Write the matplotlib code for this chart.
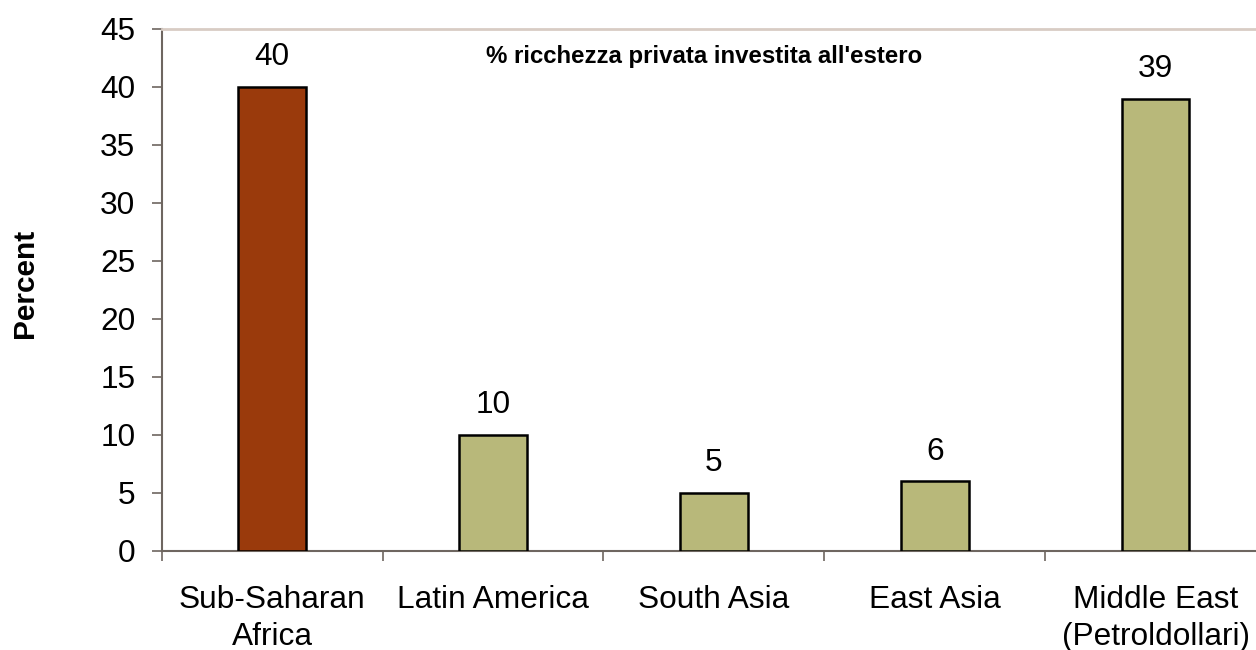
import matplotlib
matplotlib.use("Agg")
import matplotlib.pyplot as plt
import numpy as np

categories = ["Sub-Saharan\nAfrica", "Latin America", "South Asia", "East Asia", "Middle East\n(Petroldollari)"]
values = [40, 10, 5, 6, 39]
colors = ["#9A3A0C", "#B8B87A", "#B8B87A", "#B8B87A", "#B8B87A"]
yticks = [0, 5, 10, 15, 20, 25, 30, 35, 40, 45]
title = "% ricchezza privata investita all'estero"
ylabel = "Percent"

plt.rcParams['font.family'] = ['Liberation Sans', 'DejaVu Sans']

W, H = 1256, 650
fig = plt.figure(figsize=(W / 100, H / 100), dpi=100)
left = 161.7 / W
right = 1266.0 / W
bottom = 1 - 550.7 / H
top = 1 - 29.0 / H
ax = fig.add_axes([left, bottom, right - left, top - bottom])

x = np.arange(len(categories)) + 0.5
bars = ax.bar(x, values, width=0.307, color=colors, edgecolor="black", linewidth=1.8, zorder=3)
for xi, v in zip(x, values):
    ax.annotate(str(v), (xi, v), xytext=(0, 15.5), textcoords="offset points",
                ha="center", va="baseline", fontsize=22.8)

ax.set_xlim(0, len(categories))
ax.set_ylim(0, 45)
ax.set_yticks(yticks)
ax.set_yticklabels([str(t) for t in yticks], fontsize=22.8)
ax.tick_params(axis="y", direction="out", length=7, width=1.2, color="#6E6660", pad=12)

ax.set_xticks(np.arange(len(categories) + 1))
ax.set_xticklabels([])
ax.tick_params(axis="x", which="major", direction="out", length=7, width=1.2, color="#6E6660")
ax.set_xticks(x, minor=True)
ax.set_xticklabels(categories, minor=True, fontsize=22.8, linespacing=1.28)
ax.tick_params(axis="x", which="minor", length=0, pad=25)

for s in ["left", "bottom"]:
    ax.spines[s].set_color("#6E6660")
    ax.spines[s].set_linewidth(1.5)
ax.spines["top"].set_color("#D8CCC4")
ax.spines["top"].set_linewidth(2)
ax.spines["right"].set_visible(False)

ax.text(2.457, 42.6, title, ha="center", va="center", fontsize=17.3, fontweight="bold")
fig.text(25 / W, 1 - 283 / H, ylabel, rotation=90, ha="center", va="center",
         fontsize=21.5, fontweight="bold")

fig.savefig("out.png", dpi=100)
